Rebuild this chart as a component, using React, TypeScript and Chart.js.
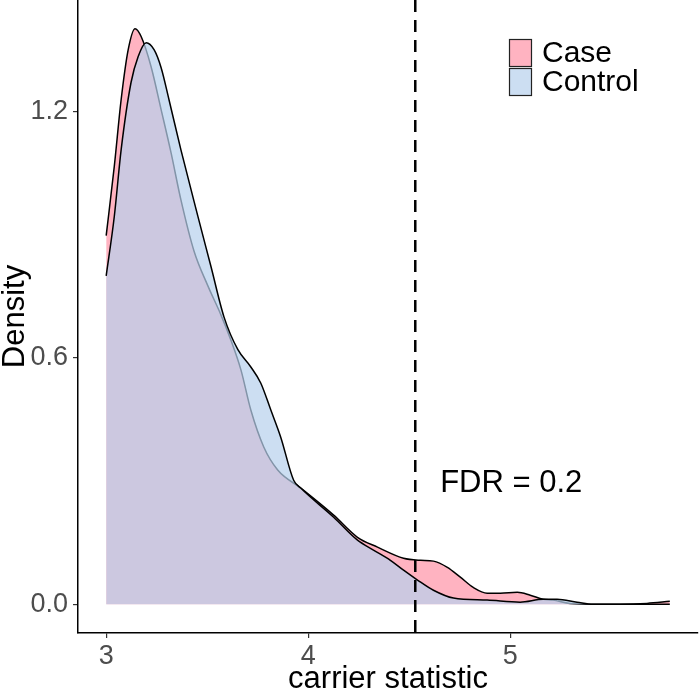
import React, { useEffect, useRef } from "react";
import { Chart, registerables } from "chart.js";

Chart.register(...registerables);

const seriesNames = ["Case", "Control"];

const caseX = [3.0, 3.04, 3.074, 3.109, 3.143, 3.173, 3.222, 3.272, 3.321, 3.37, 3.435, 3.504, 3.568, 3.617, 3.667, 3.716, 3.78, 3.849, 3.963, 4.126, 4.244, 4.343, 4.472, 4.556, 4.62, 4.689, 4.753, 4.817, 4.886, 4.951, 5.035, 5.099, 5.163, 5.212, 5.296, 5.41, 5.543, 5.677, 5.79];
const caseY = [0.898, 1.066, 1.229, 1.351, 1.402, 1.383, 1.31, 1.205, 1.1, 0.985, 0.86, 0.775, 0.705, 0.644, 0.571, 0.473, 0.383, 0.327, 0.283, 0.217, 0.163, 0.139, 0.112, 0.107, 0.105, 0.09, 0.066, 0.041, 0.027, 0.027, 0.029, 0.022, 0.012, 0.01, 0.002, 0.0, 0.0, 0.002, 0.007];

const controlX = [3.0, 3.04, 3.074, 3.123, 3.158, 3.198, 3.237, 3.272, 3.311, 3.37, 3.454, 3.519, 3.583, 3.652, 3.716, 3.765, 3.815, 3.864, 3.928, 3.963, 4.126, 4.244, 4.323, 4.407, 4.472, 4.541, 4.62, 4.719, 4.886, 5.049, 5.163, 5.232, 5.331, 5.41, 5.543, 5.79];
const controlY = [0.8, 0.944, 1.107, 1.271, 1.334, 1.368, 1.351, 1.307, 1.229, 1.107, 0.945, 0.822, 0.7, 0.62, 0.578, 0.539, 0.473, 0.407, 0.302, 0.283, 0.212, 0.156, 0.132, 0.107, 0.083, 0.059, 0.034, 0.015, 0.01, 0.005, 0.012, 0.012, 0.005, 0.0, 0.0, 0.0];

const xTicks = [3, 4, 5];
const yTicks = [0, 0.6, 1.2];
const xRange = [2.8605, 5.9295];
const yRange = [-0.0701, 1.472];

const fdrX = 4.53;
const fdrLabel = "FDR = 0.2";
const fdrLabelPos = [5.005, 0.295];

const xTitle = "carrier statistic";
const yTitle = "Density";

const FONT = '"Liberation Sans", Arial, Helvetica, sans-serif';
const caseFill = "rgb(255,179,193)";
const controlFill = "rgba(183,208,237,0.71)";
const controlKey = "rgb(204,222,242)";

const overlayPlugin = {
  id: "overlay",
  afterDatasetsDraw(chart: any) {
    const { ctx, chartArea, scales } = chart;
    const xs = scales.x;
    const ys = scales.y;
    ctx.save();
    const px = xs.getPixelForValue(fdrX);
    ctx.strokeStyle = "#000";
    ctx.lineWidth = 2.5;
    ctx.setLineDash([12, 8]);
    ctx.beginPath();
    ctx.moveTo(px, chartArea.top);
    ctx.lineTo(px, chartArea.bottom);
    ctx.stroke();
    ctx.setLineDash([]);
    ctx.font = `31px ${FONT}`;
    ctx.fillStyle = "#000";
    ctx.textAlign = "center";
    ctx.textBaseline = "middle";
    ctx.fillText(fdrLabel, xs.getPixelForValue(fdrLabelPos[0]), ys.getPixelForValue(fdrLabelPos[1]));
    const bx = chartArea.right - 189;
    const by = chartArea.top + 39;
    const bw = 23;
    const bh = 28;
    const fills = [caseFill, controlKey];
    ctx.lineWidth = 1.2;
    ctx.strokeStyle = "#222";
    ctx.textAlign = "left";
    ctx.font = `30px ${FONT}`;
    seriesNames.forEach((name, i) => {
      const top = by + i * (bh + 1);
      ctx.fillStyle = fills[i];
      ctx.fillRect(bx, top, bw, bh);
      ctx.strokeRect(bx + 0.5, top + 0.5, bw - 1, bh - 1);
      ctx.fillStyle = "#000";
      ctx.fillText(name, bx + 33, top + bh / 2 + 1);
    });
    ctx.restore();
  },
};

export default function App() {
  const ref = useRef<HTMLCanvasElement | null>(null);
  useEffect(() => {
    if (!ref.current) return;
    const chart = new Chart(ref.current, {
      type: "line",
      data: {
        datasets: [
          {
            label: seriesNames[0],
            data: caseX.map((x, i) => ({ x, y: caseY[i] })),
            borderColor: "#000",
            borderWidth: 1.5,
            backgroundColor: caseFill,
            fill: "origin",
            pointRadius: 0,
            cubicInterpolationMode: "monotone",
            order: 2,
          },
          {
            label: seriesNames[1],
            data: controlX.map((x, i) => ({ x, y: controlY[i] })),
            borderColor: "#000",
            borderWidth: 1.5,
            backgroundColor: controlFill,
            fill: "origin",
            pointRadius: 0,
            cubicInterpolationMode: "monotone",
            order: 1,
          },
        ],
      },
      options: {
        animation: false,
        responsive: false,
        maintainAspectRatio: false,
        layout: { padding: { left: 0, right: 2, top: 0, bottom: 0 } },
        plugins: { legend: { display: false }, tooltip: { enabled: false } },
        scales: {
          x: {
            type: "linear",
            min: xRange[0],
            max: xRange[1],
            afterBuildTicks: (s: any) => {
              s.ticks = xTicks.map((v) => ({ value: v }));
            },
            afterFit: (s: any) => {
              s.height = 60;
              s.paddingLeft = 0;
              s.paddingRight = 0;
            },
            ticks: {
              callback: (v: any) => String(v),
              font: { family: FONT, size: 27 },
              color: "#4d4d4d",
              padding: 2,
              maxRotation: 0,
            },
            grid: { display: true, drawOnChartArea: false, drawTicks: true, tickLength: 5, color: "#333", lineWidth: 1.2 },
            border: { display: true, color: "#000", width: 1.5 },
            title: { display: true, text: xTitle, font: { family: FONT, size: 31, lineHeight: 1 }, color: "#000", padding: { top: 0, bottom: -2 } },
          },
          y: {
            type: "linear",
            min: yRange[0],
            max: yRange[1],
            afterBuildTicks: (s: any) => {
              s.ticks = yTicks.map((v) => ({ value: v }));
            },
            afterFit: (s: any) => {
              s.width = 78;
              s.paddingTop = 0;
              s.paddingBottom = 0;
            },
            ticks: {
              callback: (v: any) => Number(v).toFixed(1),
              font: { family: FONT, size: 27 },
              color: "#4d4d4d",
              padding: 5,
            },
            grid: { display: true, drawOnChartArea: false, drawTicks: true, tickLength: 5, color: "#333", lineWidth: 1.2 },
            border: { display: true, color: "#000", width: 1.5 },
            title: { display: true, text: yTitle, font: { family: FONT, size: 31, lineHeight: 1 }, color: "#000", padding: { top: 0, bottom: 0 } },
          },
        },
      },
      plugins: [overlayPlugin],
    });
    return () => chart.destroy();
  }, []);
  return (
    <div style={{ position: "fixed", left: 0, top: 0, width: 700, height: 693, background: "#fff" }}>
      <canvas ref={ref} width={700} height={693} style={{ display: "block" }} />
    </div>
  );
}
